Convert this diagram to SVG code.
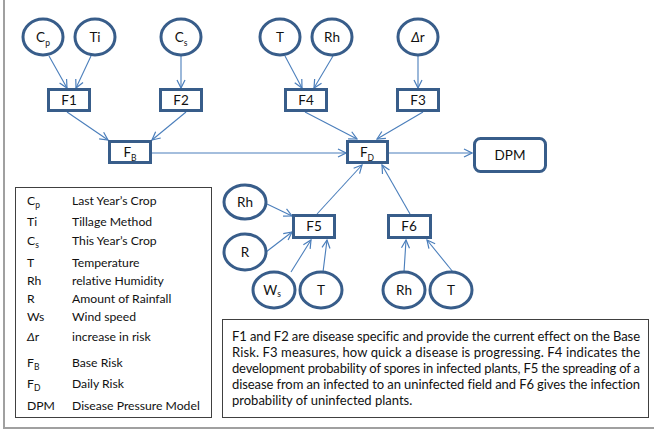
<svg xmlns="http://www.w3.org/2000/svg" width="655" height="433" viewBox="0 0 655 433">
<defs>
<marker id="ah" markerWidth="10" markerHeight="10" refX="9" refY="5" orient="auto" markerUnits="userSpaceOnUse">
<path d="M1,1 L9,5 L1,9" fill="none" stroke="#4A7EBB" stroke-width="1.2"/>
</marker>
<style>
.n{fill:#fff;stroke:#385D8A;stroke-width:3}
.c{stroke:#4A7EBB;stroke-width:1.1;fill:none;marker-end:url(#ah)}
.t{font-family:Lato,"Liberation Sans",sans-serif;font-size:13.5px;fill:#111;text-anchor:middle;font-variant-ligatures:none}
.s{font-size:8.5px}
.lg{font-family:Lato,"Liberation Sans",sans-serif;font-size:12.2px;fill:#111;font-variant-ligatures:none}
.d{font-size:13px}
.bx{fill:#fff;stroke:#404040;stroke-width:1}
</style>
</defs>
<rect width="655" height="433" fill="#fff"/>
<path d="M4,0 V428 H654" fill="none" stroke="#a0a0a0" stroke-width="2"/>

<g id="connectors">
<line class="c" x1="49" y1="56" x2="67" y2="88"/>
<line class="c" x1="91" y1="56" x2="76" y2="88"/>
<line class="c" x1="181" y1="56" x2="181" y2="88"/>
<line class="c" x1="285" y1="56" x2="302" y2="88"/>
<line class="c" x1="333" y1="56" x2="314" y2="88"/>
<line class="c" x1="418" y1="56" x2="418" y2="88"/>
<line class="c" x1="67" y1="112" x2="108" y2="140"/>
<line class="c" x1="186" y1="112" x2="152" y2="140"/>
<line class="c" x1="152" y1="153" x2="346" y2="153"/>
<line class="c" x1="305" y1="112" x2="357" y2="139"/>
<line class="c" x1="423" y1="112" x2="377" y2="139"/>
<line class="c" x1="389" y1="153" x2="472" y2="153"/>
<line class="c" x1="267" y1="204" x2="292" y2="216"/>
<line class="c" x1="266" y1="252" x2="292" y2="232"/>
<line class="c" x1="291" y1="272" x2="311" y2="240"/>
<line class="c" x1="323" y1="272" x2="327" y2="240"/>
<line class="c" x1="317" y1="214" x2="362" y2="165"/>
<line class="c" x1="404" y1="272" x2="406" y2="240"/>
<line class="c" x1="453" y1="272" x2="427" y2="240"/>
<line class="c" x1="410" y1="214" x2="382" y2="165"/>
</g>

<g id="Cp"><ellipse class="n" cx="43" cy="37" rx="20" ry="18"/><text class="t" x="43" y="42">C<tspan class="s" dy="4">p</tspan></text></g>
<g id="Ti"><ellipse class="n" cx="95" cy="37" rx="20" ry="18"/><text class="t" x="95" y="42">Ti</text></g>
<g id="Cs"><ellipse class="n" cx="181" cy="37" rx="20" ry="18"/><text class="t" x="181" y="42">C<tspan class="s" dy="4">s</tspan></text></g>
<g id="T1"><ellipse class="n" cx="280" cy="37" rx="20" ry="18"/><text class="t" x="280" y="42">T</text></g>
<g id="Rh1"><ellipse class="n" cx="332" cy="37" rx="20" ry="18"/><text class="t" x="332" y="42">Rh</text></g>
<g id="dr"><ellipse class="n" cx="418" cy="37" rx="20" ry="18"/><text class="t" x="418" y="42"><tspan font-style="italic">Δ</tspan>r</text></g>

<g id="F1"><rect class="n" x="48.5" y="89.5" width="41" height="21"/><text class="t" x="69" y="105">F1</text></g>
<g id="F2"><rect class="n" x="160.5" y="89.5" width="41" height="21"/><text class="t" x="181" y="105">F2</text></g>
<g id="F4"><rect class="n" x="285.5" y="89.5" width="41" height="21"/><text class="t" x="306" y="105">F4</text></g>
<g id="F3"><rect class="n" x="397.5" y="89.5" width="41" height="21"/><text class="t" x="418" y="105">F3</text></g>
<g id="FB"><rect class="n" x="109.5" y="141.5" width="41" height="21"/><text class="t" x="130" y="157">F<tspan class="s" dy="4">B</tspan></text></g>
<g id="FD"><rect class="n" x="347.5" y="141.5" width="40" height="21"/><text class="t" x="367" y="157">F<tspan class="s" dy="4">D</tspan></text></g>
<g id="DPM"><rect class="n" x="474.5" y="138.5" width="71" height="33" rx="6"/><text class="t" x="510" y="160">DPM</text></g>

<g id="F5"><rect class="n" x="293.5" y="215.5" width="41" height="22"/><text class="t" x="314" y="231">F5</text></g>
<g id="F6"><rect class="n" x="388.5" y="215.5" width="42" height="22"/><text class="t" x="409" y="231">F6</text></g>
<g id="Rh2"><ellipse class="n" cx="245" cy="202" rx="21" ry="17"/><text class="t" x="245" y="207">Rh</text></g>
<g id="R"><ellipse class="n" cx="245" cy="252" rx="21" ry="18"/><text class="t" x="245" y="257">R</text></g>
<g id="Ws"><ellipse class="n" cx="274" cy="290" rx="21" ry="18"/><text class="t" x="272" y="295">W<tspan class="s" dy="2">s</tspan></text></g>
<g id="T2"><ellipse class="n" cx="321" cy="290" rx="21" ry="18"/><text class="t" x="321" y="295">T</text></g>
<g id="Rh3"><ellipse class="n" cx="404" cy="290" rx="21" ry="18"/><text class="t" x="404" y="295">Rh</text></g>
<g id="T3"><ellipse class="n" cx="451" cy="290" rx="21" ry="18"/><text class="t" x="451" y="295">T</text></g>

<g id="legend">
<rect class="bx" x="15.5" y="187.5" width="196" height="230"/>
<text class="lg" x="27" y="205">C<tspan class="s" dy="3">p</tspan></text><text class="lg" x="72" y="205">Last Year’s Crop</text>
<text class="lg" x="27" y="226">Ti</text><text class="lg" x="72" y="226">Tillage Method</text>
<text class="lg" x="27" y="245">C<tspan class="s" dy="3">s</tspan></text><text class="lg" x="72" y="245">This Year’s Crop</text>
<text class="lg" x="27" y="267">T</text><text class="lg" x="72" y="267">Temperature</text>
<text class="lg" x="27" y="285">Rh</text><text class="lg" x="72" y="285">relative Humidity</text>
<text class="lg" x="27" y="303">R</text><text class="lg" x="72" y="303">Amount of Rainfall</text>
<text class="lg" x="27" y="321">Ws</text><text class="lg" x="72" y="321">Wind speed</text>
<text class="lg" x="27" y="341"><tspan font-style="italic">Δ</tspan>r</text><text class="lg" x="72" y="341">increase in risk</text>
<text class="lg" x="27" y="367">F<tspan class="s" dy="3">B</tspan></text><text class="lg" x="72" y="367">Base Risk</text>
<text class="lg" x="27" y="388">F<tspan class="s" dy="3">D</tspan></text><text class="lg" x="72" y="388">Daily Risk</text>
<text class="lg" x="27" y="410">DPM</text><text class="lg" x="72" y="410">Disease Pressure Model</text>
</g>

<g id="description">
<rect class="bx" x="222.5" y="319.5" width="426" height="98"/>
<text class="lg d" x="232" y="341" textLength="408" lengthAdjust="spacing">F1 and F2 are disease specific and provide the current effect on the Base</text>
<text class="lg d" x="232" y="357" textLength="408" lengthAdjust="spacing">Risk. F3 measures, how quick a disease is progressing. F4 indicates the</text>
<text class="lg d" x="232" y="373" textLength="408" lengthAdjust="spacing">development probability of spores in infected plants, F5 the spreading of a</text>
<text class="lg d" x="232" y="389" textLength="408" lengthAdjust="spacing">disease from an infected to an uninfected field and F6 gives the infection</text>
<text class="lg d" x="232" y="405">probability of uninfected plants.</text>
</g>
</svg>
